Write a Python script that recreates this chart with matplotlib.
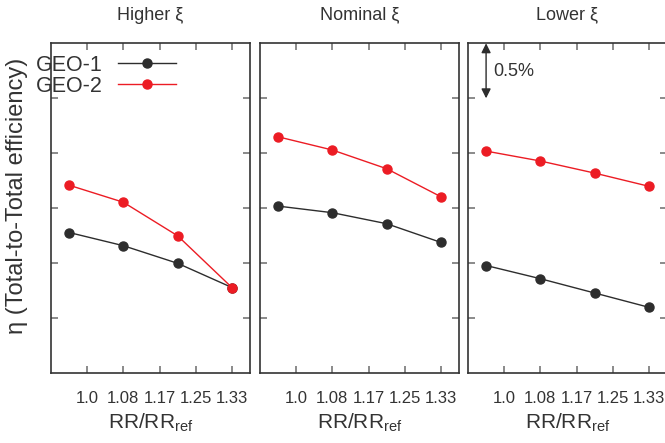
import matplotlib
matplotlib.use("Agg")
import matplotlib.pyplot as plt

plt.rcParams['font.family'] = ['Liberation Sans', 'DejaVu Sans']

# positions of the four RR cases on the x axis (tick slots 1..5 carry the labels)
rr_pos = [0.5, 2.0, 3.5, 5.0]
tick_pos = [1, 2, 3, 4, 5]
tick_labels = ['1.0', '1.08', '1.17', '1.25', '1.33']

titles = ['Higher ξ', 'Nominal ξ', 'Lower ξ']

# efficiency, relative units (%), one tick = 0.5 %
geo1 = [
    [1.28, 1.16, 1.00, 0.78],
    [1.52, 1.46, 1.36, 1.19],
    [0.98, 0.86, 0.73, 0.60],
]
geo2 = [
    [1.71, 1.555, 1.25, 0.78],
    [2.15, 2.03, 1.86, 1.605],
    [2.02, 1.93, 1.82, 1.70],
]

RED = '#ec1c24'
DARK = '#2d2d2d'
TXT = '#333333'

W, H = 665, 443
fig = plt.figure(figsize=(W / 100, H / 100), dpi=100)

lefts = [51, 260, 468]
pw = 199
top, bot = 43.3, 373.3

axes = []
for i, left in enumerate(lefts):
    ax = fig.add_axes([left / W, 1 - bot / H, pw / W, (bot - top) / H])
    axes.append(ax)
    ax.plot(rr_pos, geo1[i], '-o', color=DARK, lw=1.0, ms=6.5, label='GEO-1', zorder=3)
    ax.plot(rr_pos, geo2[i], '-o', color=RED, lw=1.0, ms=6.5, label='GEO-2', zorder=4)
    ax.set_xlim(0, 5.5)
    ax.set_ylim(0, 3.0)
    ax.set_xticks(tick_pos)
    ax.set_xticklabels(tick_labels, fontsize=12, color=TXT)
    ax.set_yticks([0.5, 1.0, 1.5, 2.0, 2.5])
    ax.set_yticklabels([])
    ax.tick_params(direction='in', length=5, width=1.2, color='#777777',
                   top=True, right=True, pad=13)
    for s in ax.spines.values():
        s.set_color(TXT)
        s.set_linewidth(1.2)
    ax.text(0.5, 1 + (top - 15) / (bot - top), titles[i], transform=ax.transAxes,
            ha='center', va='center', fontsize=13, color=TXT)
    ax.text(0.5, -(423 - bot) / (bot - top), 'RR/RR$_\\mathregular{ref}$',
            transform=ax.transAxes, ha='center', va='center', fontsize=15, color=TXT)

leg = axes[0].legend(loc='upper left', bbox_to_anchor=(-0.075, 0.965), markerfirst=False,
                     frameon=False, fontsize=15.5, handlelength=2.7, handletextpad=0.7,
                     labelspacing=0.0, borderpad=0, borderaxespad=0)
for t in leg.get_texts():
    t.set_color(TXT)

# 0.5 % scale arrow
axes[2].annotate('', xy=(0.5, 2.5), xytext=(0.5, 3.0),
                 arrowprops=dict(arrowstyle='<|-|>', color=DARK, lw=1.0,
                                 shrinkA=0, shrinkB=0, mutation_scale=14))
axes[2].text(0.7, 2.74, '0.5%', fontsize=13, color=TXT, va='center', ha='left')

fig.text(17 / W, 1 - 196 / H, 'η (Total-to-Total efficiency)', rotation=90,
         ha='center', va='center', fontsize=17, color=TXT)

fig.savefig('out.png', dpi=100)
